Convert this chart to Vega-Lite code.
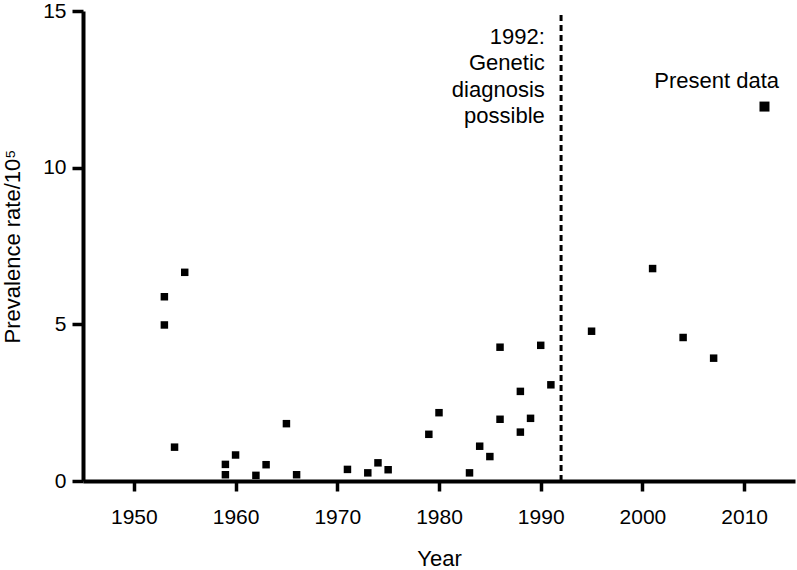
{
  "$schema": "https://vega.github.io/schema/vega-lite/v6.json",
  "autosize": {"type": "none"},
  "padding": {"left": 83, "top": 11, "right": 2, "bottom": 89},
  "width": 712,
  "height": 470,
  "background": "white",
  "config": {
    "view": {"stroke": null},
    "font": "Liberation Sans",
    "axis": {
      "grid": false,
      "domainColor": "black",
      "domainWidth": 4,
      "tickColor": "black",
      "tickWidth": 3.5,
      "tickSize": 10,
      "labelFont": "Liberation Sans",
      "labelFontSize": 21,
      "labelColor": "black",
      "titleFont": "Liberation Sans",
      "titleFontSize": 22,
      "titleFontWeight": "normal",
      "titleColor": "black"
    }
  },
  "datasets": {
    "points": [
      {"year": 1953, "rate": 5.88, "group": "Literature"},
      {"year": 1953, "rate": 4.98, "group": "Literature"},
      {"year": 1955, "rate": 6.66, "group": "Literature"},
      {"year": 1954, "rate": 1.08, "group": "Literature"},
      {"year": 1959, "rate": 0.53, "group": "Literature"},
      {"year": 1959, "rate": 0.2, "group": "Literature"},
      {"year": 1960, "rate": 0.83, "group": "Literature"},
      {"year": 1962, "rate": 0.18, "group": "Literature"},
      {"year": 1963, "rate": 0.52, "group": "Literature"},
      {"year": 1965, "rate": 1.83, "group": "Literature"},
      {"year": 1966, "rate": 0.2, "group": "Literature"},
      {"year": 1971, "rate": 0.37, "group": "Literature"},
      {"year": 1973, "rate": 0.26, "group": "Literature"},
      {"year": 1974, "rate": 0.58, "group": "Literature"},
      {"year": 1975, "rate": 0.36, "group": "Literature"},
      {"year": 1979, "rate": 1.49, "group": "Literature"},
      {"year": 1980, "rate": 2.18, "group": "Literature"},
      {"year": 1983, "rate": 0.26, "group": "Literature"},
      {"year": 1984, "rate": 1.11, "group": "Literature"},
      {"year": 1985, "rate": 0.78, "group": "Literature"},
      {"year": 1986, "rate": 4.27, "group": "Literature"},
      {"year": 1986, "rate": 1.97, "group": "Literature"},
      {"year": 1988, "rate": 2.86, "group": "Literature"},
      {"year": 1988, "rate": 1.56, "group": "Literature"},
      {"year": 1989, "rate": 2.0, "group": "Literature"},
      {"year": 1990, "rate": 4.33, "group": "Literature"},
      {"year": 1991, "rate": 3.07, "group": "Literature"},
      {"year": 1995, "rate": 4.78, "group": "Literature"},
      {"year": 2001, "rate": 6.78, "group": "Literature"},
      {"year": 2004, "rate": 4.58, "group": "Literature"},
      {"year": 2007, "rate": 3.92, "group": "Literature"},
      {"year": 2012, "rate": 11.95, "group": "Present"}
    ],
    "rule": [{"year": 1992, "y0": 0, "y1": 15}],
    "notes": [
      {"year": 1990.4, "rate": 13.95, "label": "1992:\nGenetic\ndiagnosis\npossible", "pos": "left"},
      {"year": 2007.3, "rate": 12.55, "label": "Present data", "pos": "center"}
    ]
  },
  "layer": [
    {
      "data": {"name": "rule"},
      "mark": {"type": "rule", "color": "black", "strokeWidth": 3, "strokeDash": [6, 4]},
      "encoding": {
        "x": {"field": "year", "type": "quantitative"},
        "y": {"field": "y0", "type": "quantitative"},
        "y2": {"field": "y1"}
      }
    },
    {
      "data": {"name": "points"},
      "mark": {"type": "point", "shape": "square", "filled": true, "color": "black", "opacity": 1},
      "encoding": {
        "x": {
          "field": "year", "type": "quantitative",
          "scale": {"domain": [1945, 2015], "nice": false, "zero": false},
          "axis": {"values": [1950, 1960, 1970, 1980, 1990, 2000, 2010], "title": "Year", "format": "d", "labelPadding": 15, "titlePadding": 21}
        },
        "y": {
          "field": "rate", "type": "quantitative",
          "scale": {"domain": [0, 15], "nice": false},
          "axis": {"values": [0, 5, 10, 15], "title": "Prevalence rate/10⁵", "labelPadding": 6, "tickSize": 11, "titlePadding": 18}
        },
        "size": {
          "field": "group", "type": "nominal",
          "scale": {"domain": ["Literature", "Present"], "range": [56, 100]},
          "legend": null
        }
      }
    },
    {
      "data": {"name": "notes"},
      "transform": [{"filter": "datum.pos == 'left'"}],
      "mark": {"type": "text", "align": "right", "baseline": "alphabetic", "fontSize": 22, "lineHeight": 26.5, "lineBreak": "\n", "color": "black", "font": "Liberation Sans"},
      "encoding": {
        "x": {"field": "year", "type": "quantitative"},
        "y": {"field": "rate", "type": "quantitative"},
        "text": {"field": "label"}
      }
    },
    {
      "data": {"name": "notes"},
      "transform": [{"filter": "datum.pos == 'center'"}],
      "mark": {"type": "text", "align": "center", "baseline": "alphabetic", "fontSize": 22, "color": "black", "font": "Liberation Sans"},
      "encoding": {
        "x": {"field": "year", "type": "quantitative"},
        "y": {"field": "rate", "type": "quantitative"},
        "text": {"field": "label"}
      }
    }
  ]
}
